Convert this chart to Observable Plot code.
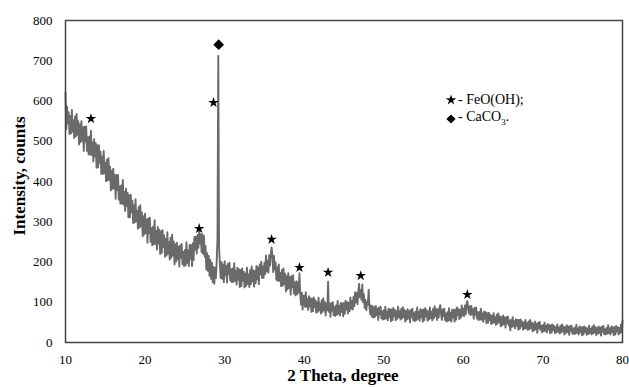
<!DOCTYPE html>
<html><head><meta charset="utf-8">
<script src="https://cdn.jsdelivr.net/npm/d3@7"></script>
<script src="https://cdn.jsdelivr.net/npm/@observablehq/plot@0.6"></script>
<style>
body{margin:0;background:#fff;}
#wrap{position:relative;width:629px;height:387px;color:#000;}
#wrap, #wrap *, #wrap svg text{font-family:"Liberation Serif","DejaVu Serif",serif !important;}
#legend{position:absolute;left:445px;top:91px;font-size:14px;line-height:17px;}
#legend div{display:flex;align-items:center;white-space:nowrap;}
#legend svg{display:block;margin-right:1px;}
.title{position:absolute;font-weight:bold;font-size:17px;white-space:nowrap;}
#xtitle{left:0;width:686px;text-align:center;top:366px;}
#ytitle{left:20px;top:176px;transform:translate(-50%,-50%) rotate(-90deg);}
</style></head><body>
<div id="wrap">
<div id="chart"></div>
<div id="legend"></div>
<div class="title" id="xtitle"></div>
<div class="title" id="ytitle"></div>
</div>
<script>
// 2θ sampling grid of the diffractogram
const thetaStart = 10;
const thetaStep = 0.1;
// intensity (counts), one row per degree (x.0 … x.9)
const counts = [
622,530,586,544,572,518,562,520,578,524,
552,508,562,512,568,516,550,492,542,498,
550,501,535,476,536,499,537,476,510,467,
512,467,526,466,497,450,505,462,495,434,
490,435,490,447,474,419,462,419,476,421,
446,401,454,403,458,404,437,378,427,382,
432,383,416,357,416,379,416,355,388,345,
390,345,404,343,374,327,382,339,372,311,
366,311,367,324,352,297,341,298,356,301,
327,283,336,286,341,289,323,264,314,269,
320,272,306,248,308,272,310,250,284,242,
288,244,304,245,277,231,287,246,280,220,
276,223,279,238,266,213,257,216,274,221,
249,206,260,211,268,216,251,194,244,201,
248,207,238,189,241,211,245,195,225,190,
230,192,249,198,229,190,243,208,242,190,
247,205,262,231,263,221,267,235,276,246,
269,225,269,220,265,213,239,181,222,178,
215,166,205,158,198,150,188,146,186,160,
200,262,712,236,196,160,200,158,194,150,
202,167,190,149,195,170,198,154,182,150,
184,151,197,153,178,144,186,156,182,138,
180,140,184,153,176,137,171,141,186,146,
169,138,180,145,189,152,179,139,178,148,
190,157,186,145,194,170,201,160,189,161,
198,170,216,177,203,174,217,191,218,236,
218,175,215,181,199,156,187,153,194,153,
173,140,180,141,184,145,171,127,165,132,
172,136,162,119,165,138,167,122,149,117,
152,120,150,124,172,120,94,124,82,116,
115,89,125,89,108,81,115,90,110,76,
109,78,112,88,105,74,100,76,111,80,
97,72,105,76,110,80,100,67,97,80,
151,76,96,64,98,79,100,68,88,66,
92,69,103,71,91,67,98,76,97,65,
98,71,104,82,100,72,99,78,112,84,
103,82,114,90,125,100,123,95,127,146,
112,130,106,144,100,120,86,106,80,100,
94,131,88,70,92,64,90,62,88,64,
91,68,84,56,87,70,89,60,77,57,
80,59,89,60,77,55,84,64,82,53,
82,56,86,66,81,55,78,59,89,63,
78,57,84,60,88,63,81,52,78,57,
83,60,78,50,81,64,84,55,73,53,
77,56,87,59,76,54,83,63,81,52,
82,56,85,65,80,54,77,57,87,61,
76,55,84,60,90,66,83,56,83,62,
86,93,70,56,82,66,84,56,72,52,
75,54,85,56,74,52,82,62,81,52,
82,57,87,68,83,58,81,62,92,67,
84,66,92,70,96,103,84,72,90,68,
91,70,83,59,86,69,87,60,75,56,
76,57,84,57,72,51,77,59,75,48,
73,49,74,56,69,46,66,48,73,50,
63,44,69,47,72,50,65,40,63,43,
67,46,62,37,63,48,65,43,55,30,
56,39,63,40,53,35,58,42,56,32,
56,34,57,41,52,32,50,34,56,36,
48,31,52,33,56,36,50,28,47,30,
52,33,47,24,49,36,51,31,42,25,
43,28,49,29,41,25,46,32,43,23,
43,25,45,31,41,23,38,25,45,27,
37,22,42,25,45,28,40,20,38,24,
43,26,39,19,41,29,42,22,35,21,
37,22,44,24,35,20,40,26,38,18,
38,20,40,26,37,19,35,21,42,24,
34,20,39,22,43,25,38,18,36,22,
40,24,37,17,39,27,41,21,33,20,
36,22,43,23,35,20,40,26,38,18,
38,20,41,27,38,20,36,23,44,26,
55
];
// phase markers
const feoohTheta = [13.2, 26.8, 28.6, 35.9, 39.4, 43.0, 47.1, 60.5];
const feoohMark  = [556, 283, 596, 256, 186, 174, 166, 119];
const caco3Theta = [29.25];
const caco3Mark  = [740];
const xTicks = [10, 20, 30, 40, 50, 60, 70, 80];
const yTicks = [0, 100, 200, 300, 400, 500, 600, 700, 800];
const xTitle = "2 Theta, degree";
const yTitle = "Intensity, counts";
const legendItems = [
  {symbol: "star", label: "- FeO(OH);"},
  {symbol: "diamond2", label: "- CaCO<sub style='font-size:9px'>3</sub>."}
];

const pattern = counts.map((c, i) => ({theta: +(thetaStart + i * thetaStep).toFixed(1), counts: c}));
const feooh = feoohTheta.map((t, i) => ({theta: t, y: feoohMark[i]}));
const caco3 = caco3Theta.map((t, i) => ({theta: t, y: caco3Mark[i]}));

const font = '"Liberation Serif","DejaVu Serif",serif';
const chart = Plot.plot({
  width: 629, height: 387,
  marginLeft: 65, marginRight: 7, marginTop: 20, marginBottom: 45,
  style: {fontFamily: font, fontSize: "13px", color: "#000", background: "#fff"},
  x: {domain: [10, 80], ticks: xTicks, tickSize: 0, tickPadding: 12, label: null},
  y: {domain: [0, 800], ticks: yTicks, tickSize: 0, tickPadding: 13, label: null},
  marks: [
    Plot.line(pattern, {x: "theta", y: "counts", stroke: "#6a6a6a", strokeWidth: 1.9}),
    Plot.frame({stroke: "#444", strokeWidth: 1.5}),
    Plot.dot(feooh, {x: "theta", y: "y", symbol: "star", r: 3.3, fill: "#000", stroke: "none"}),
    Plot.dot(caco3, {x: "theta", y: "y", symbol: "diamond2", r: 4.8, fill: "#000", stroke: "none"})
  ]
});
document.getElementById("chart").appendChild(chart);
document.getElementById("xtitle").textContent = xTitle;
document.getElementById("ytitle").textContent = yTitle;

const symbolSize = {star: Math.PI * 3.3 * 3.3, diamond2: Math.PI * 4.8 * 4.8 * 0.75};
const symbolType = {star: d3.symbolStar, diamond2: d3.symbolDiamond2};
const legend = document.getElementById("legend");
for (const item of legendItems) {
  const row = document.createElement("div");
  const path = d3.symbol().type(symbolType[item.symbol]).size(symbolSize[item.symbol])();
  row.innerHTML = `<svg width="12" height="12" viewBox="-6 -6 12 12"><path d="${path}" fill="#000"/></svg><span>${item.label}</span>`;
  legend.appendChild(row);
}
</script>
</body></html>
